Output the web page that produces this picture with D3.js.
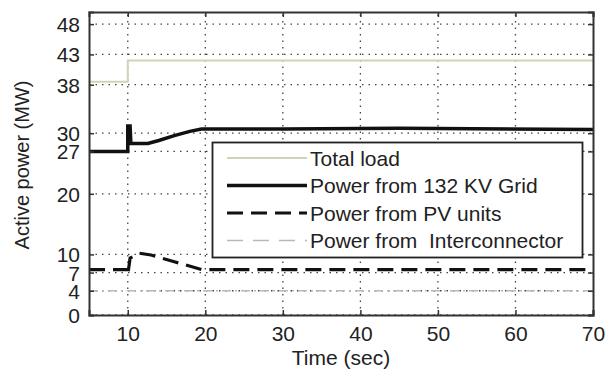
<!DOCTYPE html>
<html>
<head>
<meta charset="utf-8">
<script src="https://cdn.jsdelivr.net/npm/d3@7"></script>
<style>
	body { margin: 0; background: #fff; }
	text { font-family: 'Liberation Sans', Arial, sans-serif; fill: #222; }
</style>
</head>
<body>
<div id="chart"></div>
<script>
const width = 613;
const height = 372;

// data ===========================================================
const xTicks = [10, 20, 30, 40, 50, 60, 70];
const yTicks = [0, 4, 7, 10, 20, 27, 30, 38, 43, 48];

const loadTime = [5, 10, 10, 70];
const loadPower = [38.5, 38.5, 42, 42];

const gridTime = [5, 10, 10, 10.3, 10.4, 12.6, 14, 16, 18, 19.5, 30, 45, 70];
const gridPower = [27, 27, 31.2, 31.2, 28.3, 28.3, 28.8, 29.6, 30.3, 30.7, 30.7, 30.8, 30.6];

const pvTime = [5, 10, 10, 10.3, 11.5, 13, 16, 19.5, 70];
const pvPower = [7.5, 7.5, 6.6, 9.4, 10.2, 9.9, 8.8, 7.5, 7.5];

const icTime = [5, 70];
const icPower = [4, 4];

const legendLabels = ['Total load', 'Power from 132 KV Grid', 'Power from PV units', 'Power from  Interconnector'];
// ================================================================

const margin = { left: 89, right: 20, top: 12, bottom: 57 };

const svg = d3.select('#chart').append('svg').attr('width', width).attr('height', height);

const x = d3.scaleLinear().domain([5, 70]).range([margin.left, width - margin.right]);
const y = d3.scaleLinear().domain([0, 50]).range([height - margin.bottom, margin.top]);

// grid lines (MATLAB style dotted)
svg.append('g')
	.selectAll('line')
	.data(yTicks)
	.join('line')
	.attr('x1', x(5))
	.attr('x2', x(70))
	.attr('y1', (d) => y(d))
	.attr('y2', (d) => y(d))
	.attr('stroke', '#444')
	.attr('stroke-width', 1.3)
	.attr('stroke-dasharray', '1.5,5');

svg.append('g')
	.selectAll('line')
	.data(xTicks.slice(0, -1))
	.join('line')
	.attr('x1', (d) => x(d))
	.attr('x2', (d) => x(d))
	.attr('y1', y(0))
	.attr('y2', y(50))
	.attr('stroke', '#444')
	.attr('stroke-width', 1.3)
	.attr('stroke-dasharray', '1.5,5');

// series ==========================================================
const line = d3
	.line()
	.x((d) => x(d[0]))
	.y((d) => y(d[1]));

const series = [
	{ t: loadTime, v: loadPower, color: '#cdd5b8', width: 2, dash: null },
	{ t: icTime, v: icPower, color: '#b8b8b8', width: 1.6, dash: '9,4,2,4' },
	{ t: pvTime, v: pvPower, color: '#111', width: 3.2, dash: '16,8' },
	{ t: gridTime, v: gridPower, color: '#111', width: 3.5, dash: null },
];

svg.append('g')
	.selectAll('path')
	.data(series)
	.join('path')
	.attr('d', (d) => line(d.t.map((t, i) => [t, d.v[i]])))
	.attr('fill', 'none')
	.attr('stroke', (d) => d.color)
	.attr('stroke-width', (d) => d.width)
	.attr('stroke-dasharray', (d) => d.dash);

// axes ============================================================
const axisLeft = svg
	.append('g')
	.attr('transform', `translate(${x(5)},0)`)
	.call(d3.axisLeft(y).tickValues(yTicks).tickSize(-5).tickPadding(9));

const axisBottom = svg
	.append('g')
	.attr('transform', `translate(0,${y(0)})`)
	.call(d3.axisBottom(x).tickValues(xTicks).tickSize(-5).tickPadding(11));

svg.append('g')
	.attr('transform', `translate(${x(70)},0)`)
	.call(d3.axisRight(y).tickValues(yTicks).tickSize(-5).tickFormat(''));

svg.append('g')
	.attr('transform', `translate(0,${y(50)})`)
	.call(d3.axisTop(x).tickValues(xTicks).tickSize(-5).tickFormat(''));

svg.selectAll('.domain').attr('stroke', '#333').attr('stroke-width', 2);
svg.selectAll('.tick line').attr('stroke', '#333').attr('stroke-width', 1.5);
svg.selectAll('.tick text').style('font-size', '21px').attr('fill', '#222');
axisLeft.selectAll('.tick text').attr('dy', '0.36em');

// axis labels
svg.append('text')
	.attr('x', (x(5) + x(70)) / 2)
	.attr('y', 365)
	.attr('text-anchor', 'middle')
	.style('font-size', '21px')
	.text('Time (sec)');

svg.append('text')
	.attr('transform', `translate(29,${165}) rotate(-90)`)
	.attr('text-anchor', 'middle')
	.style('font-size', '20px')
	.text('Active power (MW)');

// legend ==========================================================
const legend = svg.append('g');

legend.append('rect')
	.attr('x', 212.5)
	.attr('y', 142.5)
	.attr('width', 370)
	.attr('height', 115)
	.attr('fill', '#fff')
	.attr('stroke', '#222')
	.attr('stroke-width', 1.8);

const legendRows = [series[0], series[3], series[2], series[1]];

const rows = legend
	.selectAll('g.row')
	.data(legendRows)
	.join('g')
	.attr('class', 'row')
	.attr('transform', (d, i) => `translate(0,${158 + i * 27.5})`);

rows.append('line')
	.attr('x1', 227)
	.attr('x2', 307)
	.attr('stroke', (d) => d.color)
	.attr('stroke-width', (d) => d.width)
	.attr('stroke-dasharray', (d, i) => (i === 2 ? '16,8' : i === 3 ? '16,10' : null));

rows.append('text')
	.attr('x', 310)
	.attr('dy', '0.36em')
	.style('font-size', '21px')
	.style('white-space', 'pre')
	.text((d, i) => legendLabels[i]);
</script>
</body>
</html>
